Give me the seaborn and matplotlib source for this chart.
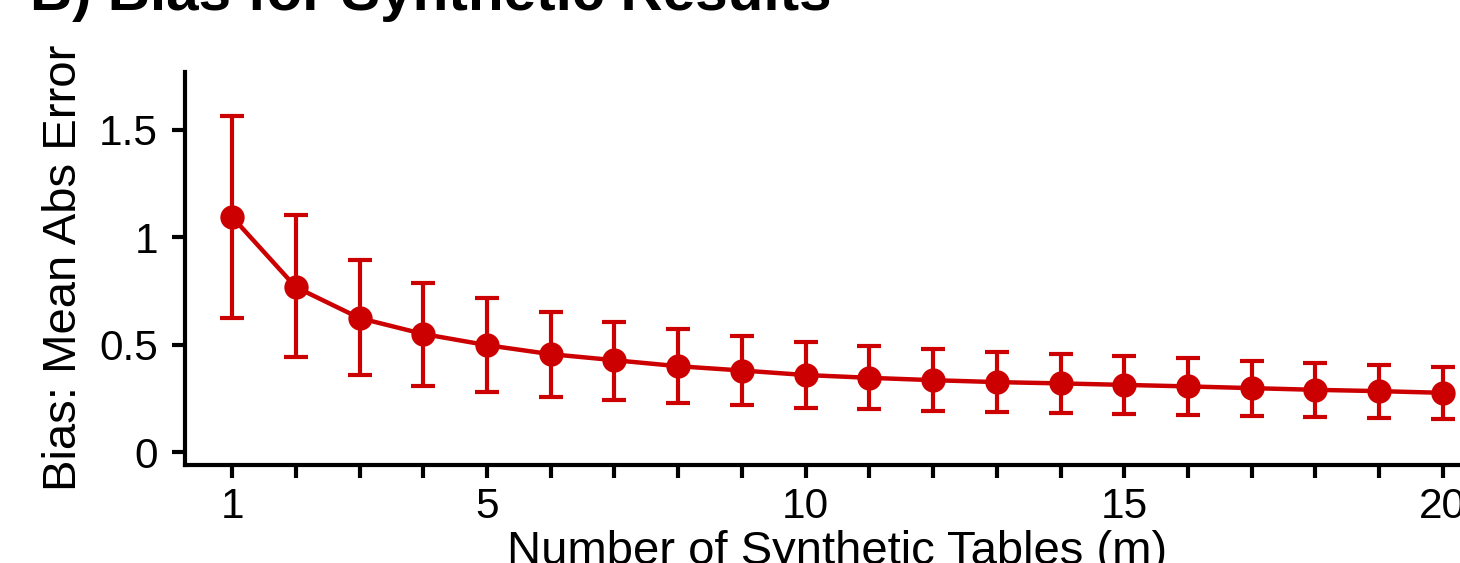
import matplotlib
matplotlib.use("Agg")
import matplotlib.pyplot as plt
import seaborn as sns
import pandas as pd

# values
m_tables = list(range(1, 21))
mean_abs_error = [1.095, 0.768, 0.624, 0.550, 0.498, 0.456, 0.428, 0.400, 0.380, 0.359,
                  0.346, 0.335, 0.326, 0.320, 0.313, 0.306, 0.298, 0.290, 0.284, 0.276]
upper = [1.565, 1.104, 0.894, 0.787, 0.717, 0.652, 0.608, 0.573, 0.540, 0.512,
         0.492, 0.480, 0.466, 0.458, 0.448, 0.436, 0.424, 0.414, 0.405, 0.396]
lower = [0.624, 0.442, 0.359, 0.307, 0.279, 0.256, 0.245, 0.231, 0.219, 0.205,
         0.200, 0.192, 0.186, 0.182, 0.177, 0.172, 0.168, 0.163, 0.158, 0.154]
x_ticks = [1, 5, 10, 15, 20]

df = pd.DataFrame({"m": m_tables, "mae": mean_abs_error, "lo": lower, "hi": upper})

sns.set_theme(style="ticks")
plt.rcParams["font.family"] = ["Liberation Sans", "DejaVu Sans"]

red = "#CC0000"
fig = plt.figure(figsize=(14.6, 5.63), dpi=100)
ax = fig.add_axes([185 / 1460, 98 / 563, 1305 / 1460, 393 / 563])

ax.errorbar(df["m"], df["mae"],
            yerr=[df["mae"] - df["lo"], df["hi"] - df["mae"]],
            fmt="none", ecolor=red, elinewidth=3.0, capsize=8.3, capthick=3.0)
sns.lineplot(data=df, x="m", y="mae", color=red, marker="o", markersize=17.5,
             markeredgewidth=0, linewidth=3.2, ax=ax)

ax.set_xlim(0.26, 20.74)
ax.set_ylim(-0.06, 1.77)
ax.set_xticks(m_tables)
ax.set_xticklabels([str(v) if v in x_ticks else "" for v in m_tables])
ax.set_yticks([0, 0.5, 1, 1.5])
ax.set_yticklabels(["0", "0.5", "1", "1.5"])

for side in ["top", "right"]:
    ax.spines[side].set_visible(False)
for side in ["left", "bottom"]:
    ax.spines[side].set_linewidth(3.0)
    ax.spines[side].set_color("black")
ax.tick_params(axis="both", length=9.5, width=3.0, color="black",
               labelsize=30.5, labelcolor="black")
ax.tick_params(axis="y", pad=10)
ax.tick_params(axis="x", pad=6)

ax.set_xlabel("Number of Synthetic Tables (m)", fontsize=34, color="black", va="top")
ax.set_ylabel("Bias: Mean Abs Error", fontsize=34, color="black")
ax.xaxis.set_label_coords(0.5, -0.165)
ax.yaxis.set_label_coords(-0.076, 0.5025)

fig.text(30 / 1460, 1 - 10 / 563, "B) Bias for Synthetic Results",
         fontsize=42, fontweight="bold", ha="left", va="baseline", color="black")

fig.savefig("out.png", dpi=100)
